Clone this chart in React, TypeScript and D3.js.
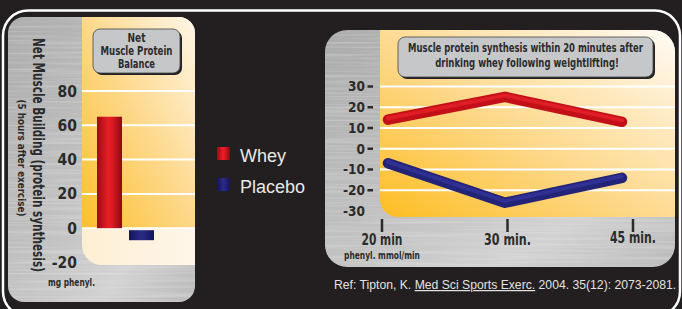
import React, { useLayoutEffect, useRef, useState } from 'react'
import * as d3 from 'd3'

// left chart: net muscle protein balance
const barCats = ['Whey', 'Placebo']
const barValues = [65, -7]
const barTicks = [80, 60, 40, 20, 0, -20]
const barGrid = [80, 60, 40, 20, 0]

// right chart: synthesis over time
const timeCats = ['20 min', '30 min.', '45 min.']
const wheySeries = [14, 25, 13]
const placeboSeries = [-7, -26, -14]
const lineTicks = [30, 20, 10, 0, -10, -20, -30]
const lineGrid = [30, 20, 10, 0, -10, -20]

const legendLabels = ['Whey', 'Placebo']

const W = 682
const H = 309
const condensed = "'Liberation Sans Narrow', 'DejaVu Sans Condensed', 'Roboto Condensed', sans-serif"
const plain = "'Liberation Sans', Arial, sans-serif"
const ink = '#2b2b2b'

// condensed bold text squeezed to a given width (measures itself, then scales)
function FitText(props: { x: number; y: number; w: number; size: number; rotate?: number; children: string }) {
  const ref = useRef<SVGTextElement>(null)
  const [k, setK] = useState(1)
  useLayoutEffect(() => {
    if (ref.current) {
      const len = ref.current.getComputedTextLength()
      if (len > 0) setK(props.w / len)
    }
  }, [props.w, props.children])
  return (
    <text ref={ref} transform={`translate(${props.x},${props.y}) rotate(${props.rotate || 0}) scale(${k},1)`}
      fontFamily={condensed} fontWeight="bold" fontSize={props.size} fill={ink} textAnchor="middle">
      {props.children}
    </text>
  )
}

function App() {
  // scales left
  const yL = d3.scaleLinear().domain([-20, 80]).range([262.5, 91])
  const xL = d3.scaleBand().domain(barCats).range([97, 154]).paddingInner(7 / 32)

  // scales right
  const yR = d3.scaleLinear().domain([-30, 30]).range([211, 86.5])
  const xR = d3.scalePoint().domain(timeCats).range([388, 622])
  const xTick = d3.scalePoint().domain(timeCats).range([382, 633])
  const line = d3.line<number>()
    .x((d, i) => xR(timeCats[i]) as number)
    .y((d) => yR(d))

  const barFills = ['url(#gRed)', 'url(#gBlue)']
  const lineColors = [
    { main: '#c20f18', hi: '#e52028' },
    { main: '#232378', hi: '#33339a' },
  ]

  return (
    <svg width={W} height={H} style={{ position: 'absolute', left: 0, top: 0, display: 'block' }}>
      <defs>
        <linearGradient id="gMetal" x1="0" y1="0" x2="1" y2="1">
          <stop offset="0" stopColor="#ababab" />
          <stop offset="0.5" stopColor="#c2c2c2" />
          <stop offset="0.75" stopColor="#d2d2d2" />
          <stop offset="1" stopColor="#bababa" />
        </linearGradient>
        <linearGradient id="gYellowL" x1="0" y1="1" x2="1" y2="0">
          <stop offset="0" stopColor="#fdbf2c" />
          <stop offset="0.5" stopColor="#fdd88a" />
          <stop offset="1" stopColor="#fff6e8" />
        </linearGradient>
        <linearGradient id="gPaleL" x1="0" y1="0" x2="1" y2="0">
          <stop offset="0" stopColor="#fdefd3" />
          <stop offset="1" stopColor="#fff6e9" />
        </linearGradient>
        <linearGradient id="gYellowR" x1="0" y1="1" x2="1" y2="0">
          <stop offset="0" stopColor="#fdbd22" />
          <stop offset="0.45" stopColor="#fdd88a" />
          <stop offset="1" stopColor="#fffbf5" />
        </linearGradient>
        <linearGradient id="gRed" x1="0" y1="0" x2="1" y2="0">
          <stop offset="0" stopColor="#9c0c12" />
          <stop offset="0.45" stopColor="#e81f28" />
          <stop offset="0.6" stopColor="#de1a22" />
          <stop offset="1" stopColor="#8a0a10" />
        </linearGradient>
        <linearGradient id="gBlue" x1="0" y1="0" x2="1" y2="0">
          <stop offset="0" stopColor="#14145a" />
          <stop offset="0.5" stopColor="#2c2c88" />
          <stop offset="1" stopColor="#14145a" />
        </linearGradient>
        <filter id="brushed" filterUnits="userSpaceOnUse" x="0" y="0" width={W} height={H}>
          <feTurbulence type="fractalNoise" baseFrequency="0.008 0.45" numOctaves="2" seed="7" result="n" />
          <feColorMatrix in="n" type="matrix" values="0 0 0 0 1  0 0 0 0 1  0 0 0 0 1  1.5 0 0 0 -0.6" result="w" />
          <feComposite in="w" in2="SourceAlpha" operator="in" />
        </filter>
        <clipPath id="clipL">
          <rect x={8} y={17} width={187} height={285} rx={16} />
        </clipPath>
        <clipPath id="clipR">
          <rect x={325} y={30} width={350} height={237} rx={22} />
        </clipPath>
      </defs>

      <rect x={0} y={0} width={W} height={H} fill="#231f20" />
      <rect x={3} y={10.5} width={677} height={306} rx={25} fill="none" stroke="#fff" strokeWidth={2.5} />

      {/* ---------- left panel ---------- */}
      <g clipPath="url(#clipL)">
        <rect x={8} y={17} width={187} height={285} fill="url(#gMetal)" />
        <rect x={8} y={17} width={187} height={285} fill="#fff" opacity={0.35} filter="url(#brushed)" />
        <rect x={82} y={17} width={113} height={yL(0) - 17} fill="url(#gYellowL)" />
        <path d={`M82,${yL(0)} H195 V265 H102 A20,20 0 0 1 82,245 Z`} fill="url(#gPaleL)" />
      </g>

      <rect x={95} y={31} width={87} height={44} rx={7} fill="#222" />
      <rect x={93} y={29} width={87} height={44} rx={7} fill="#c6c7c9" stroke="#444" strokeWidth={0.8} />
      <FitText x={136.5} y={42} w={18} size={12}>Net</FitText>
      <FitText x={136.5} y={55} w={72} size={12}>Muscle Protein</FitText>
      <FitText x={136.5} y={68} w={37} size={12}>Balance</FitText>

      {barGrid.map((t) => (
        <line key={t} x1={82} x2={195} y1={yL(t)} y2={yL(t)} stroke="#fff" strokeWidth={2} />
      ))}

      {barValues.map((v, i) => (
        <rect key={barCats[i]} x={xL(barCats[i])} y={v >= 0 ? yL(v) : yL(0) + 2}
          width={xL.bandwidth()} height={v >= 0 ? yL(0) - yL(v) : yL(v) - yL(0) - 2}
          fill={barFills[i]} />
      ))}

      <g fontFamily={condensed} fontWeight="bold" fontSize={15.5} fill={ink} textAnchor="end">
        {barTicks.map((t) => (
          <text key={t} x={77} y={yL(t) + 5.5}>{t}</text>
        ))}
      </g>

      <g transform="translate(38,155) rotate(90)">
        <FitText x={0} y={5} w={234} size={16}>Net Muscle Building (protein synthesis)</FitText>
      </g>
      <g transform="translate(21,158) rotate(90)">
        <FitText x={0} y={3.5} w={117} size={11}>(5 hours after exercise)</FitText>
      </g>
      <FitText x={71.5} y={286} w={47} size={10.5}>mg phenyl.</FitText>

      {/* ---------- legend ---------- */}
      {legendLabels.map((l, i) => (
        <g key={l} transform={`translate(217,${147 + i * 31})`}>
          <rect width={13} height={13} fill={barFills[i]} />
          <text x={23} y={15} fontFamily={plain} fontSize={18} fill="#e8e8e8">{l}</text>
        </g>
      ))}

      {/* ---------- right panel ---------- */}
      <g clipPath="url(#clipR)">
        <rect x={325} y={30} width={350} height={237} fill="url(#gMetal)" />
        <rect x={325} y={30} width={350} height={237} fill="#fff" opacity={0.35} filter="url(#brushed)" />
        <path d="M380,30 H675 V217 H398 A18,18 0 0 1 380,199 Z" fill="url(#gYellowR)" />
      </g>

      <rect x={400} y={39} width={255} height={40} rx={7} fill="#222" />
      <rect x={398} y={37} width={255} height={40} rx={7} fill="#c6c7c9" stroke="#444" strokeWidth={0.8} />
      <FitText x={525.5} y={52} w={235} size={12}>Muscle protein synthesis within 20 minutes after</FitText>
      <FitText x={527} y={67} w={184} size={12}>drinking whey following weightlifting!</FitText>

      {lineGrid.map((t) => (
        <line key={t} x1={380} x2={675} y1={yR(t)} y2={yR(t)} stroke="#fff" strokeWidth={2} />
      ))}

      {[wheySeries, placeboSeries].map((s, i) => (
        <g key={i}>
          <path d={line(s) || ''} fill="none" stroke={lineColors[i].main} strokeWidth={10.5}
            strokeLinecap="round" strokeLinejoin="round" />
          <path d={line(s) || ''} fill="none" stroke={lineColors[i].hi} strokeWidth={4}
            strokeLinecap="round" strokeLinejoin="round" transform="translate(0,-1.5)" opacity={0.8} />
        </g>
      ))}

      <g fontFamily={condensed} fontWeight="bold" fontSize={13.5} fill={ink} textAnchor="end">
        {lineTicks.map((t) => (
          <g key={t}>
            <text x={365} y={yR(t) + 4.8}>{t}</text>
            {t !== -30 && (
              <line x1={367.5} x2={373} y1={yR(t)} y2={yR(t)} stroke={ink} strokeWidth={2.5} />
            )}
          </g>
        ))}
      </g>

      {timeCats.map((c, i) => (
        <g key={c}>
          <line x1={xTick(c)} x2={xTick(c)} y1={219} y2={232} stroke={ink} strokeWidth={2.5} />
          <FitText x={xTick(c) as number} y={i === 2 ? 243 : 245} w={[41, 47, 46][i]} size={15}>{c}</FitText>
        </g>
      ))}
      <FitText x={382} y={259} w={76} size={10.5}>phenyl. mmol/min</FitText>

      <text x={334} y={289} fontFamily={plain} fontSize={12.2} fill="#e2e2e2">
        Ref: Tipton, K. <tspan style={{ textDecoration: 'underline' }}>Med Sci Sports Exerc.</tspan> 2004. 35(12): 2073-2081.
      </text>
    </svg>
  )
}

export default App
